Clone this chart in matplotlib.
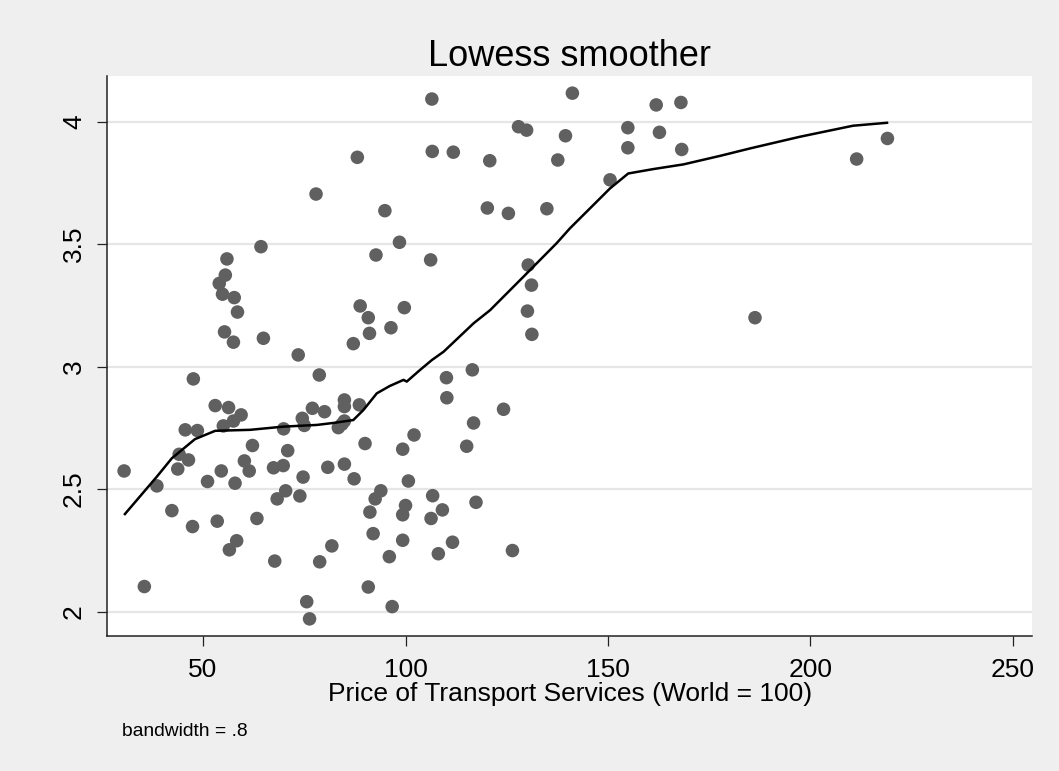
import numpy as np
import matplotlib
matplotlib.use("Agg")
import matplotlib.pyplot as plt

plt.rcParams['font.family'] = ['Liberation Sans', 'DejaVu Sans']

# scatter data: price of transport services vs. outcome
price = [88.1, 77.9, 94.9, 98.5, 92.7, 64.3, 55.9, 55.5, 54.0, 54.8, 57.7, 58.5,
         88.8, 99.7, 90.8, 96.4, 91.1, 87.1, 55.3, 57.5, 64.9, 73.5,
         78.7, 47.6, 53.0, 56.3, 59.4, 57.5, 55.0, 45.6, 48.6, 44.1, 46.4, 43.75,
         30.5, 38.6, 42.3, 47.4, 35.5, 54.5, 51.1, 57.9, 62.2, 60.2, 61.4, 53.5,
         63.3, 58.3, 56.5, 69.9, 70.9, 67.4, 69.8, 74.7, 70.4, 68.3, 73.9, 67.7,
         78.8, 81.8, 75.6, 76.3, 74.5, 75.0, 77.0, 80.0, 84.9, 84.9, 88.6, 84.9,
         83.4, 84.3, 80.8, 84.9, 87.3, 90.0, 99.3, 102.1, 100.7, 93.9, 92.5, 91.2,
         100.0, 99.3, 92.0, 99.3, 96.0, 90.8, 96.7,
         106.5, 141.2, 161.9, 168.0, 127.9, 129.9, 139.5, 154.9, 162.7, 154.9,
         168.2, 106.6, 111.8, 120.8, 137.6, 150.5, 120.2, 125.4, 134.9, 106.2,
         130.3, 131.1, 130.1, 131.2,
         110.1, 116.5, 110.2, 124.2, 116.8, 115.1, 106.7, 109.1, 117.4, 106.3,
         111.6, 108.1, 126.4,
         211.4, 219.0, 186.3]
value = [3.855, 3.705, 3.637, 3.508, 3.456, 3.490, 3.440, 3.374, 3.340, 3.296, 3.282, 3.223,
         3.248, 3.241, 3.200, 3.159, 3.136, 3.094, 3.142, 3.100, 3.116, 3.048,
         2.966, 2.950, 2.841, 2.833, 2.803, 2.778, 2.758, 2.742, 2.739, 2.642, 2.619, 2.582,
         2.574, 2.513, 2.412, 2.347, 2.102, 2.574, 2.531, 2.524, 2.678, 2.615, 2.574, 2.369,
         2.380, 2.289, 2.252, 2.746, 2.657, 2.587, 2.596, 2.549, 2.493, 2.460, 2.472, 2.206,
         2.203, 2.268, 2.040, 1.970, 2.789, 2.760, 2.830, 2.816, 2.864, 2.837, 2.844, 2.778,
         2.751, 2.765, 2.589, 2.602, 2.542, 2.686, 2.663, 2.721, 2.533, 2.493, 2.460, 2.406,
         2.433, 2.395, 2.318, 2.291, 2.224, 2.100, 2.020,
         4.093, 4.117, 4.069, 4.079, 3.980, 3.966, 3.943, 3.976, 3.957, 3.894,
         3.887, 3.879, 3.876, 3.841, 3.844, 3.763, 3.648, 3.626, 3.645, 3.436,
         3.415, 3.333, 3.227, 3.132,
         2.955, 2.987, 2.873, 2.826, 2.770, 2.675, 2.473, 2.415, 2.446, 2.380,
         2.283, 2.236, 2.249,
         3.848, 3.932, 3.200]

# lowess fit (bandwidth = .8)
lowess_x = [30.7, 38.6, 42.3, 48.0, 53.0, 61.6, 69.8, 78.1, 82.6, 87.1, 89.6,
            92.9, 96.1, 99.5, 100.3, 103.4, 106.5, 109.4, 116.8, 120.9, 129.1,
            137.3, 140.6, 150.5, 155.0, 161.2, 168.6, 177.7, 185.0, 197.4, 210.5, 218.9]
lowess_y = [2.398, 2.551, 2.626, 2.704, 2.738, 2.742, 2.755, 2.762, 2.771, 2.782, 2.823,
            2.891, 2.921, 2.946, 2.939, 2.984, 3.027, 3.061, 3.177, 3.231, 3.367,
            3.504, 3.565, 3.728, 3.789, 3.807, 3.826, 3.861, 3.891, 3.939, 3.984, 3.996]

fig = plt.figure(figsize=(10.59, 7.71), dpi=100)
fig.patch.set_facecolor('#efefef')
ax = fig.add_axes([0.1015, 0.1751, 0.873, 0.7263])
ax.set_facecolor('white')

ax.scatter(price, value, s=95, color='#606060', edgecolors='none', zorder=3)
ax.plot(lowess_x, lowess_y, color='black', lw=1.8, zorder=4)

ax.set_xlim(26.4, 254.7)
ax.set_ylim(1.90, 4.187)
ax.set_xticks([50, 100, 150, 200, 250])
ax.set_yticks([2, 2.5, 3, 3.5, 4])
ax.set_yticklabels(['2', '2.5', '3', '3.5', '4'], rotation=90, va='center')
ax.yaxis.grid(True, color='#e6e6e6', lw=1.6)
ax.set_axisbelow(True)

for s in ['top', 'right']:
    ax.spines[s].set_visible(False)
for s in ['left', 'bottom']:
    ax.spines[s].set_color('#222222')
    ax.spines[s].set_linewidth(1.1)

ax.tick_params(axis='x', length=7.5, width=0.9, color='#222222', labelsize=19, pad=8)
ax.tick_params(axis='y', length=7.5, width=0.9, color='#222222', labelsize=19, pad=8)

ax.set_xlabel('Price of Transport Services (World = 100)', fontsize=19, labelpad=0)
ax.set_title('Lowess smoother', fontsize=26, pad=7)
fig.text(122 / 1059, 1 - 732 / 771, 'bandwidth = .8', fontsize=13.9, ha='left', va='center')

fig.savefig('out.png', dpi=100, facecolor=fig.get_facecolor())
